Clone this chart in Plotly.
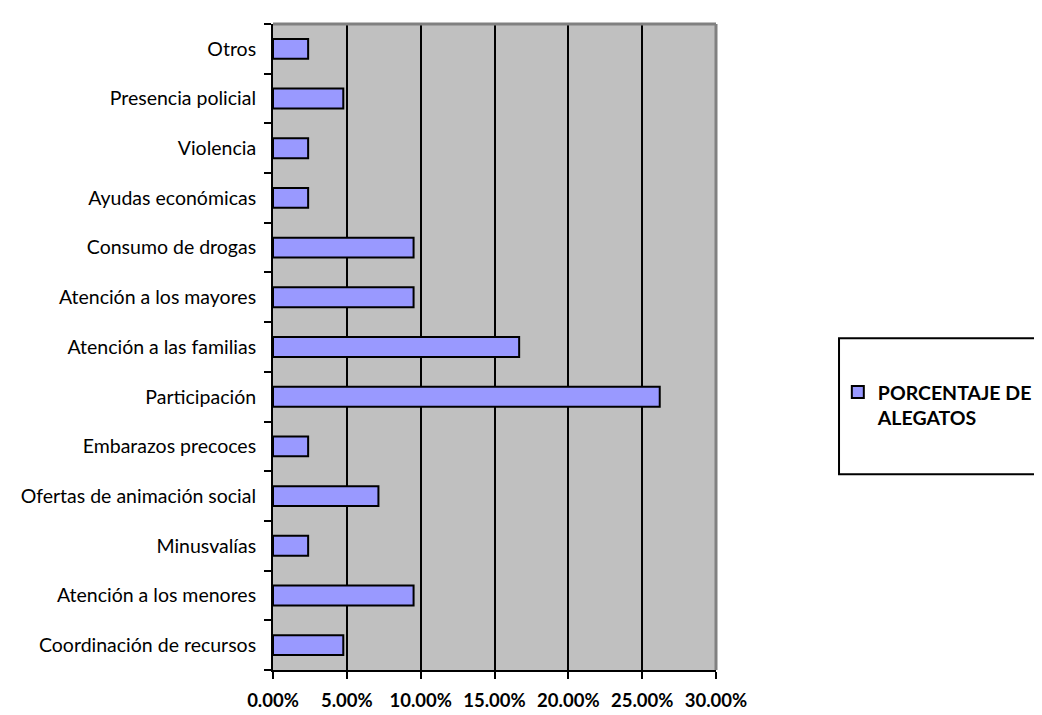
import plotly.graph_objects as go

categories = [
    "Coordinación de recursos",
    "Atención a los menores",
    "Minusvalías",
    "Ofertas de animación social",
    "Embarazos precoces",
    "Participación",
    "Atención a las familias",
    "Atención a los mayores",
    "Consumo de drogas",
    "Ayudas económicas",
    "Violencia",
    "Presencia policial",
    "Otros",
]
values = [0.0476, 0.0952, 0.0238, 0.0714, 0.0238, 0.2619, 0.1667,
          0.0952, 0.0952, 0.0238, 0.0238, 0.0476, 0.0238]
series_name = "PORCENTAJE DE<br>ALEGATOS"
x_ticks = [0, 0.05, 0.10, 0.15, 0.20, 0.25, 0.30]

FONT = "Lato"

fig = go.Figure()
fig.add_trace(go.Bar(
    y=categories, x=values, orientation="h", name=series_name,
    marker=dict(color="#9999FF", line=dict(color="black", width=2)),
    showlegend=True,
))

fig.update_layout(
    width=1042, height=715,
    margin=dict(l=265, r=334, t=16, b=39),
    paper_bgcolor="white",
    plot_bgcolor="#C0C0C0",
    bargap=0.6,
    font=dict(family=FONT, size=19, color="black"),
    legend=dict(
        x=1.275, y=0.46, xanchor="left", yanchor="top",
        bgcolor="rgba(0,0,0,0)", borderwidth=0,
        font=dict(family=FONT, size=19.5, color="black", weight="bold"),
        valign="top",
    ),
    xaxis=dict(
        range=[0, 0.30], tickvals=x_ticks, tickformat=".2%",
        showgrid=True, gridcolor="black", gridwidth=2,
        zeroline=False,
        showline=True, linecolor="black", linewidth=2,
        ticks="outside", ticklen=7, tickwidth=2, tickcolor="black",
        tickfont=dict(family=FONT, size=18.5, weight="bold"),
        ticklabelstandoff=6,
    ),
    yaxis=dict(
        type="category",
        showgrid=False, zeroline=False,
        showline=True, linecolor="black", linewidth=2,
        ticks="outside", tickson="boundaries", ticklen=7, tickwidth=2,
        tickcolor="black",
        tickfont=dict(family=FONT, size=19.5),
        ticklabelstandoff=11,
    ),
    shapes=[
        dict(type="line", xref="paper", yref="paper", x0=0, x1=1, y0=1, y1=1,
             line=dict(color="#808080", width=3), layer="above"),
        dict(type="line", xref="paper", yref="paper", x0=1, x1=1, y0=0, y1=1,
             line=dict(color="#808080", width=3), layer="above"),
        dict(type="rect", xref="paper", yref="paper",
             x0=1.2777, x1=1.78, y0=0.303, y1=0.5136,
             line=dict(color="black", width=2), fillcolor="rgba(0,0,0,0)"),
    ],
)

fig.write_html("out.html")
